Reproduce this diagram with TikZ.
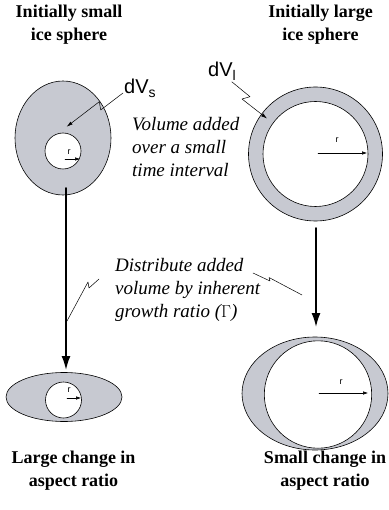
\documentclass[tikz,border=0pt]{standalone}
\usepackage{fontspec}
\setmainfont{Liberation Serif}
\setsansfont{Liberation Sans}
\usetikzlibrary{arrows.meta}
\definecolor{hielo}{RGB}{199,201,209}

\begin{document}
\begin{tikzpicture}[x=1pt, y=-1pt, line cap=round, line join=round,
  shell/.style={draw=black, fill=hielo, line width=0.6pt},
  core/.style={draw=black, fill=white, line width=0.6pt},
  titulo/.style={font=\fontsize{18}{23}\selectfont\bfseries, align=center, inner sep=0pt},
  nota/.style={font=\fontsize{19}{23}\selectfont\itshape, align=left, anchor=west, inner sep=0pt},
  dvlabel/.style={font=\sffamily\fontsize{20}{20}\selectfont, anchor=base west, inner sep=0pt},
  rlabel/.style={font=\sffamily\fontsize{9}{9}\selectfont, inner sep=0pt},
  crece/.style={-{Latex[length=14pt,width=9pt]}, line width=1.6pt},
  rarrow/.style={-{Latex[length=5pt,width=3.5pt]}, line width=0.5pt},
  bolt/.style={line width=0.5pt},
  ]
  \useasboundingbox (0,0) rectangle (388,510);

  % Esfera inicialmente pequena
  \coordinate (Cs) at (63,138);
  \coordinate (Is) at (63,151);
  \fill[shell] (Cs) ellipse [x radius=48, y radius=57];
  \fill[core] (Is) circle (18);
  \draw[rarrow] (65,159) -- (80,159);
  \node[rlabel] (rs) at (69,152) {r};

  % Esfera inicialmente grande
  \coordinate (Cl) at (315.5,154);
  \fill[shell] (Cl) circle (67);
  \fill[core] (Cl) circle (52.5);
  \draw[rarrow] (318,153) -- (367,153);
  \node[rlabel] (rl) at (337,140) {r};

  % Resultado: gran cambio
  \coordinate (Es) at (64,397);
  \fill[shell] (Es) ellipse [x radius=58, y radius=24.5];
  \fill[core] (63.5,400) circle (18);
  \draw[rarrow] (67,398) -- (81,398);
  \node[rlabel] (rs2) at (69,390) {r};

  % Resultado: pequeno cambio
  \coordinate (El) at (315,393.5);
  \fill[shell] (El) ellipse [x radius=73, y radius=56.5];
  \fill[core] (318,394.5) circle (53.7);
  \draw[rarrow] (319,393) -- (368,393);
  \node[rlabel] (rl2) at (341,382) {r};

  % Flechas de crecimiento
  \coordinate (As) at (66,188);
  \coordinate (Bs) at (66,370);
  \coordinate (Al) at (316,228);
  \coordinate (Bl) at (316,327);
  \draw[crece] (As) -- (Bs);
  \draw[crece] (Al) -- (Bl);

  % Volumen anadido
  \node[dvlabel] (dVs) at (124,94) {dV\textsubscript{s}};
  \node[dvlabel] (dVl) at (208,77) {dV\textsubscript{l}};
  \draw[bolt, -{Latex[length=6pt,width=3.5pt]}] (123,93) -- (100.7,110) -- (99.3,101.7) -- (66.7,126.7);
  \draw[bolt, -{Latex[length=6pt,width=3.5pt]}] (231.7,81.7) -- (250,96.7) -- (242,99) -- (267,118.5);

  % Textos
  \node[titulo] (tsmall) at (69,24.5) {Initially small\\ice sphere};
  \node[titulo] (tlarge) at (320.5,24.5) {Initially large\\ice sphere};
  \node[titulo] (bsmall) at (73.5,470.5) {Large change in\\aspect ratio};
  \node[titulo] (blarge) at (325,470.5) {Small change in\\aspect ratio};
  \node[nota] (vol) at (132,147) {Volume added\\over a small\\time interval};
  \node[nota] (dist) at (115,290) {Distribute added\\volume by inherent\\growth ratio ($\Gamma$)};

  % Rayos hacia las flechas
  \draw[bolt] (99,279) -- (89,288) -- (88,282) -- (67,321);
  \draw[bolt] (253,273) -- (270,281) -- (269,277.5) -- (302,295);
\end{tikzpicture}
\end{document}
